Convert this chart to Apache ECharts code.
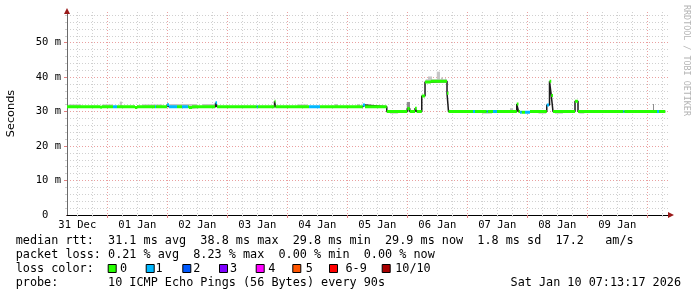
<!DOCTYPE html>
<html><head><meta charset="utf-8">
<script src="https://cdn.jsdelivr.net/npm/echarts@6/dist/echarts.min.js"></script>
<style>html,body{margin:0;padding:0;background:#fff}#c{width:697px;height:297px}</style>
</head><body><div id="c"></div>
<script>
// ---------- data (time = hours since 31 Dec 00:00, values = ms) ----------
const medianT = [7.88, 21.3, 21.7, 35.1, 35.9, 47.9, 48.7, 56.7, 57.9, 67.3, 67.9, 90.9, 91.3, 126.2, 127.1, 135.8, 144.0, 145.0, 147.1, 147.8, 149.8, 151.1, 153.4, 159.9, 160.5, 187.8, 188.5, 189.1, 193.1, 199.8, 200.9, 201.6, 202.3, 211.1, 212.3, 247.2];
const medianV = [31.4, 31.2, 31.4, 31.2, 31.4, 32.0, 31.4, 31.2, 31.4, 32.6, 31.4, 33.0, 31.4, 31.9, 31.4, 30.0, 30.9, 30.0, 31.0, 30.0, 34.5, 38.6, 38.8, 35.3, 30.0, 32.2, 30.0, 29.8, 30.0, 31.9, 38.8, 34.7, 30.0, 33.0, 30.0, 30.0];

const lossStart = [26.3, 43.1, 47.9, 53.9, 67.1, 83.8, 104.7, 126.2, 170.3, 175.8, 178.3, 189.1, 191.1, 199.8, 230.4, 243.9];
const lossEnd   = [27.9, 43.5, 51.9, 56.3, 67.9, 84.2, 109.1, 127.1, 171.1, 176.2, 179.9, 189.8, 193.1, 200.7, 230.8, 244.7];
const lossClass = [1, 1, 1, 1, 1, 1, 1, 1, 1, 1, 1, 1, 1, 1, 1, 1];

const smokeStart = [8.5, 22, 29.0, 38, 49, 62, 100, 115.0, 123.9, 137.1, 151.4, 152.3, 155.8, 157.5, 159.1, 173.9, 185.1, 196.5, 203.1, 212.8];
const smokeEnd   = [13.5, 26, 29.9, 46, 60, 67, 104, 116.3, 125.1, 140.3, 159.8, 153.9, 157.1, 158.3, 159.5, 177.9, 186.3, 199.5, 206.3, 214.8];
const smokeLow   = [31.2, 31.2, 31.2, 31.2, 31.2, 31.2, 31.2, 31.2, 31.2, 29.4, 38.4, 38.4, 38.4, 38.4, 38.4, 29.4, 29.6, 29.4, 29.4, 29.4];
const smokeHigh  = [32.1, 32.1, 32.9, 32.1, 32.2, 32.2, 32.1, 32.2, 32.2, 30.4, 39.4, 40.2, 41.6, 39.9, 39.7, 30.3, 31.0, 30.3, 30.3, 30.3];

const denseStart = [143.8, 242.3];
const denseEnd   = [145.1, 242.7];
const denseLow   = [30.0, 29.8];
const denseHigh  = [32.8, 32.2];

const xLabelHours = [12, 36, 60, 84, 108, 132, 156, 180, 204, 228];
const xLabelTexts = ['31 Dec', '01 Jan', '02 Jan', '03 Jan', '04 Jan', '05 Jan', '06 Jan', '07 Jan', '08 Jan', '09 Jan'];
const dayLineHours = [24, 48, 72, 96, 120, 144, 168, 192, 216, 240];
const yLabelValues = [0, 10, 20, 30, 40, 50];
const yMajorValues = [10, 20, 30, 40, 50];

const lossNames  = ['0', '1', '2', '3', '4', '5', '6-9', '10/10'];
const lossColors = ['#26ff00', '#00b8ff', '#0059ff', '#7e00ff', '#ff00ff', '#ff5500', '#ff0000', '#a80000'];

const statLine1 = 'median rtt:  31.1 ms avg  38.8 ms max  29.8 ms min  29.9 ms now  1.8 ms sd  17.2   am/s';
const statLine2 = 'packet loss: 0.21 % avg  8.23 % max  0.00 % min  0.00 % now';
const statLine3 = 'loss color:';
const statLine4 = 'probe:       10 ICMP Echo Pings (56 Bytes) every 90s';
const stampText = 'Sat Jan 10 07:13:17 2026';
const yAxisTitle = 'Seconds';
const sideText = 'RRDTOOL / TOBI OETIKER';

// ---------- axis ranges ----------
const xMin = 7.88, xMax = 248.7, yMin = 0, yMax = 58.9;

// ---------- derived series ----------
function medianAt(t) { let v = medianV[0]; for (let i = 0; i < medianT.length; i++) { if (medianT[i] <= t) v = medianV[i]; else break; } return v; }
function lossAt(t) { for (let i = 0; i < lossStart.length; i++) if (t >= lossStart[i] && t < lossEnd[i]) return lossClass[i]; return 0; }
const breaks = Array.from(new Set([].concat(medianT, lossStart, lossEnd))).sort((a, b) => a - b);
const bandData = lossNames.map(() => []);
for (let i = 0; i < breaks.length - 1; i++) {
  const a = breaks[i], b = breaks[i + 1];
  const c = lossAt((a + b) / 2), v = medianAt(a);
  bandData[c].push([a, v], [b, v], [b, null]);
}
const medianLine = medianT.map((t, i) => [t, medianV[i]]);
const smokeData = smokeStart.map((s, i) => [s, smokeEnd[i], smokeLow[i], smokeHigh[i]]);
const denseData = denseStart.map((s, i) => [s, denseEnd[i], denseLow[i], denseHigh[i]]);

const minorX = [];
for (let h = 6; h < xMax; h += 6) if (h > xMin && h % 24 !== 0) minorX.push(h);
const minorY = [];
for (let v = 2; v < yMax; v += 2) if (v % 10 !== 0) minorY.push(v);

function rectRender(color) {
  return function (params, api) {
    const p0 = api.coord([api.value(0), api.value(3)]);
    const p1 = api.coord([api.value(1), api.value(2)]);
    return { type: 'rect', shape: { x: p0[0], y: p0[1], width: Math.max(1, p1[0] - p0[0]), height: p1[1] - p0[1] }, style: { fill: color } };
  };
}

const MONO = '"DejaVu Sans Mono", monospace';
const dotMinor = { color: '#d0d0d0', width: 1, type: [1, 2] };
const dotMajor = { color: '#eaa0a0', width: 1, type: [1, 2] };

const series = [
  { type: 'custom', name: 'smoke', renderItem: rectRender('#c6c6c6'), data: smokeData, encode: { x: [0, 1], y: [2, 3] }, z: 1, xAxisIndex: 1, yAxisIndex: 1 },
  { type: 'custom', name: 'smoke dense', renderItem: rectRender('#8e8e8e'), data: denseData, encode: { x: [0, 1], y: [2, 3] }, z: 1, xAxisIndex: 1, yAxisIndex: 1 },
  { type: 'line', name: 'median', data: medianLine, step: 'end', showSymbol: false, symbol: 'none', lineStyle: { color: '#1c1c1c', width: 1.5 }, z: 2, xAxisIndex: 1, yAxisIndex: 1 }
];
lossNames.forEach((n, c) => {
  series.push({ type: 'line', name: 'loss ' + n, data: bandData[c], showSymbol: false, symbol: 'none', connectNulls: false,
    lineStyle: { color: lossColors[c], width: 3, cap: 'butt' }, z: 3, xAxisIndex: 1, yAxisIndex: 1 });
});

// ---------- legend graphics ----------
const graphics = [];
function txt(text, x, y, opts) {
  graphics.push(Object.assign({ type: 'text', x: x, y: y, silent: true,
    style: Object.assign({ text: text, x: 0, y: 0, font: '11.8px ' + MONO, fill: '#000', textAlign: 'left', textVerticalAlign: 'middle', align: 'left', verticalAlign: 'middle' }, opts && opts.style || {}) },
    opts && opts.el || {}));
}
txt(statLine1, 15.7, 241);
txt(statLine2, 15.7, 255.3);
txt(statLine3, 15.7, 268.5);
txt(statLine4, 15.7, 283);
txt(stampText, 681, 283, { style: { textAlign: 'right', align: 'right' } });
const boxX  = [107.7, 145.7, 182.3, 219, 255.7, 292.3, 329, 381.7];
const boxTX = [120, 155.5, 193.3, 230, 268.3, 305.7, 345.5, 395.2];
lossNames.forEach((n, i) => {
  graphics.push({ type: 'rect', silent: true, shape: { x: boxX[i] + 0.5, y: 264.5, width: 8, height: 8 }, style: { fill: lossColors[i], stroke: '#000', lineWidth: 1 } });
  txt(n, boxTX[i], 268.5);
});
txt(yAxisTitle, 11, 113.5, { el: { rotation: Math.PI / 2 }, style: { font: '11.3px "DejaVu Sans", sans-serif', textAlign: 'center', align: 'center', fill: '#000' } });
txt(sideText, 686.5, 5, { el: { rotation: -Math.PI / 2 }, style: { font: '8.4px ' + MONO, fill: '#b4b4b4' } });

const chart = echarts.init(document.getElementById('c'), null, { renderer: 'canvas' });
chart.setOption({
  animation: false,
  backgroundColor: '#ffffff',
  grid: { left: 67, right: 28, top: 12, bottom: 82, containLabel: false, outerBoundsMode: 'none' },
  xAxis: [
    { type: 'value', min: xMin, max: xMax, position: 'bottom',
      axisLine: { show: true, onZero: false, symbol: ['none', 'triangle'], symbolSize: [6, 6], symbolOffset: [0, 2], lineStyle: { color: '#9a1a1a', width: 1 } },
      axisTick: { show: true, length: 2, customValues: minorX, lineStyle: { color: '#cfcfcf' } },
      axisLabel: { show: false },
      splitLine: { show: true, lineStyle: dotMinor } },
    { type: 'value', min: xMin, max: xMax, position: 'bottom',
      axisLine: { show: true, onZero: false, lineStyle: { color: '#000', width: 1 } },
      axisTick: { show: true, length: 3, customValues: dayLineHours, lineStyle: { color: '#e08080' } },
      axisLabel: { show: true, customValues: xLabelHours, margin: 4, fontFamily: 'DejaVu Sans Mono', fontSize: 10.5, lineHeight: 12, color: '#000',
        formatter: v => { const i = xLabelHours.findIndex(h => Math.abs(h - v) < 1e-6); return i >= 0 ? xLabelTexts[i] : ''; } },
      splitLine: { show: true, lineStyle: dotMajor } }
  ],
  yAxis: [
    { type: 'value', min: yMin, max: yMax, position: 'left', offset: 0,
      axisLine: { show: true, onZero: false, symbol: ['none', 'triangle'], symbolSize: [6, 6], symbolOffset: [0, 1], lineStyle: { color: '#9a1a1a', width: 1 } },
      axisTick: { show: true, length: 2, customValues: minorY, lineStyle: { color: '#cfcfcf' } },
      axisLabel: { show: false },
      splitLine: { show: true, lineStyle: dotMinor } },
    { type: 'value', min: yMin, max: yMax, position: 'left', offset: 0,
      axisLine: { show: true, onZero: false, lineStyle: { color: '#6a6a6a', width: 1 } },
      axisTick: { show: true, length: 3, customValues: yMajorValues, lineStyle: { color: '#e08080' } },
      axisLabel: { show: true, customValues: yLabelValues, margin: 6, fontFamily: 'DejaVu Sans Mono', fontSize: 10.5, color: '#000',
        formatter: v => (Math.abs(v) < 1e-9 ? '0  ' : Math.round(v) + ' m') },
      splitLine: { show: true, lineStyle: dotMajor } }
  ],
  series: series,
  graphic: graphics
});
</script></body></html>
